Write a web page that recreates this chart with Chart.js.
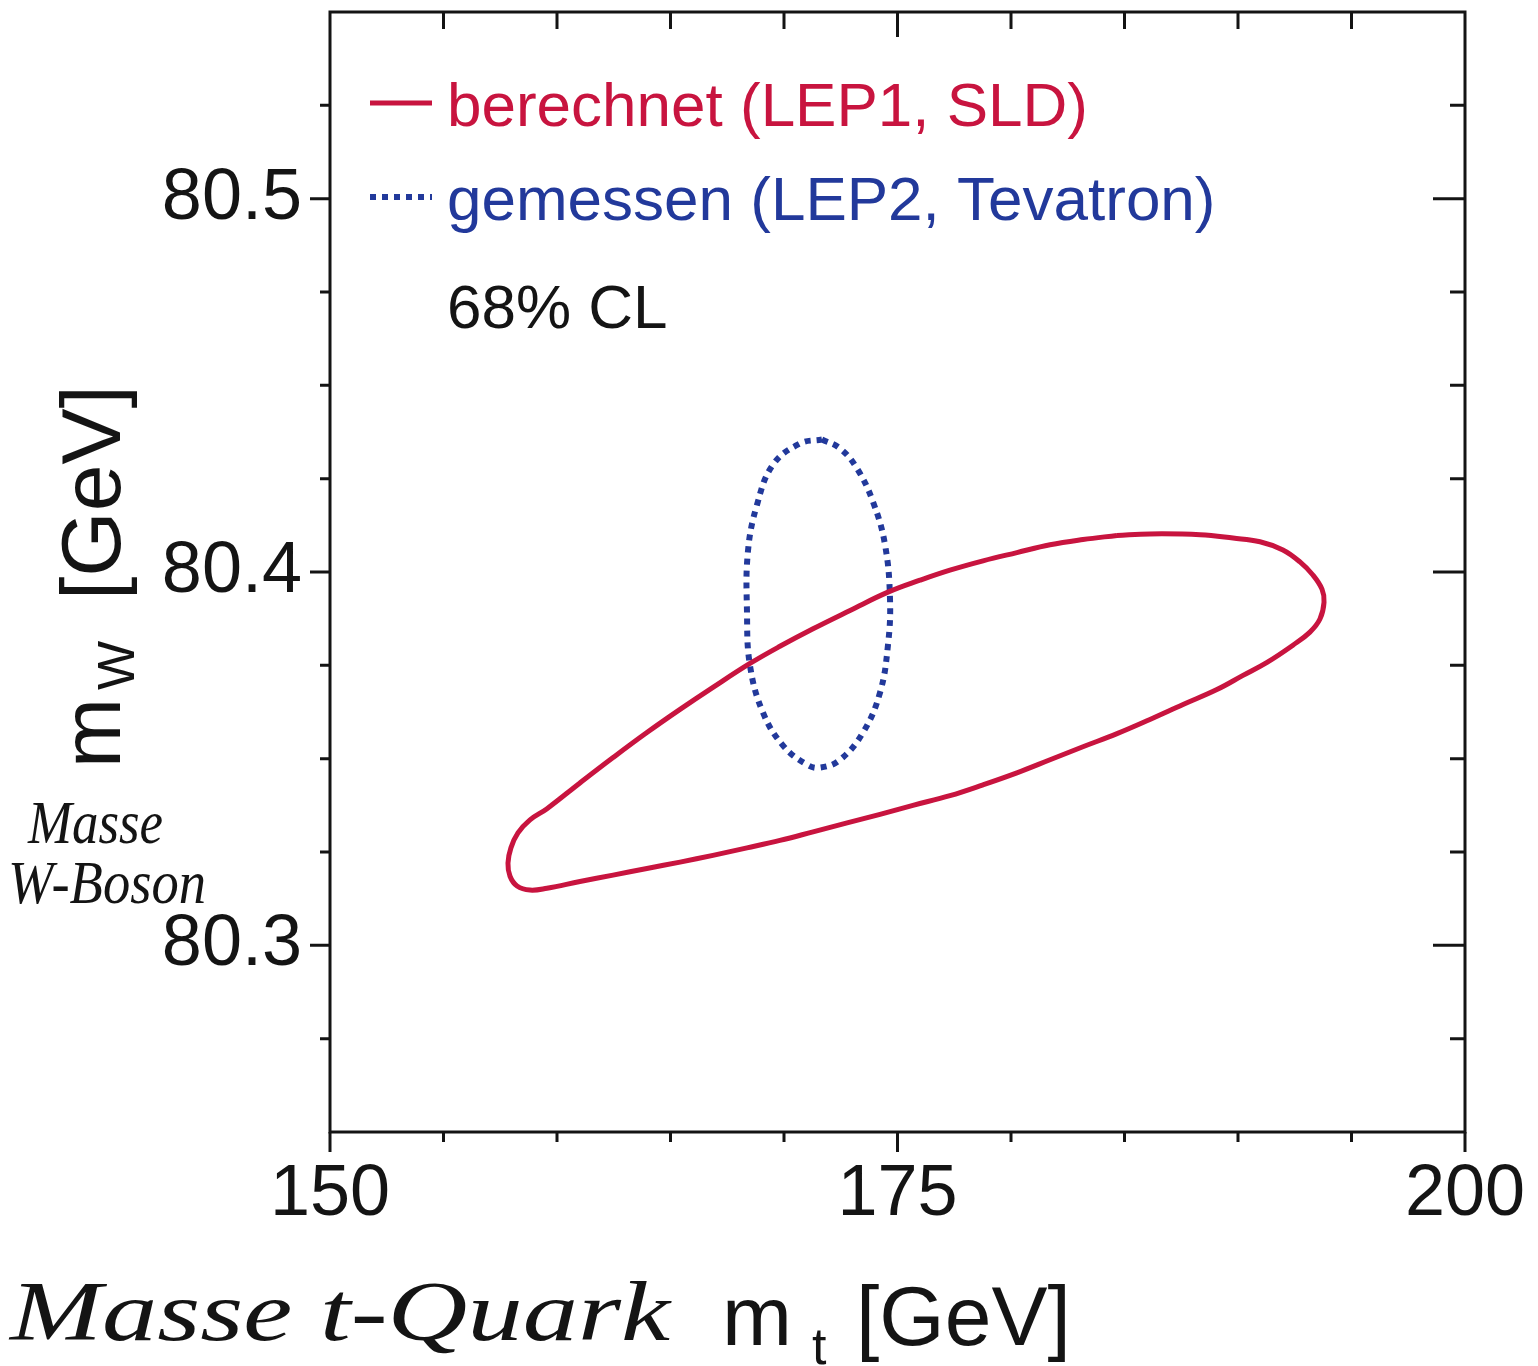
<!DOCTYPE html>
<html>
<head>
<meta charset="utf-8">
<script src="https://cdn.jsdelivr.net/npm/chart.js@4.4.1/dist/chart.umd.min.js"></script>
<style>
  html, body { margin: 0; padding: 0; background: #fff; }
  #wrap { width: 1538px; height: 1366px; }
</style>
</head>
<body>
<div id="wrap"><canvas id="mwChart" width="1538" height="1366"></canvas></div>
<script>
  // m_t [GeV] / m_W [GeV] (closed: last point = first point)
  const redMt = [184.67, 186.12, 188.33, 189.78, 190.97, 191.98, 192.73, 193.30, 193.70, 193.79,
                 193.61, 193.17, 192.42, 191.28, 190.22, 189.07, 187.58, 186.12, 184.67, 183.17,
                 181.72, 180.26, 178.77, 177.31, 175.68, 174.23, 172.78, 171.28, 169.82, 168.37,
                 166.87, 165.42, 163.96, 162.47, 161.01, 159.56, 158.81, 158.24, 157.93, 157.84,
                 157.97, 158.28, 158.81, 159.56, 161.01, 162.47, 163.96, 165.42, 166.87, 168.50,
                 169.82, 171.28, 172.91, 174.58, 175.99, 177.31, 178.77, 180.26, 181.72, 183.17,
                 184.67];
  const redMw = [80.4098, 80.4102, 80.4100, 80.4091, 80.4081, 80.4059, 80.4027, 80.3992, 80.3954, 80.3919,
                 80.3874, 80.3839, 80.3804, 80.3758, 80.3723, 80.3685, 80.3645, 80.3605, 80.3567, 80.3532,
                 80.3497, 80.3462, 80.3430, 80.3401, 80.3375, 80.3351, 80.3328, 80.3304, 80.3281, 80.3261,
                 80.3241, 80.3223, 80.3206, 80.3188, 80.3171, 80.3153, 80.3148, 80.3159, 80.3185, 80.3220,
                 80.3261, 80.3301, 80.3336, 80.3366, 80.3435, 80.3503, 80.3570, 80.3632, 80.3691, 80.3755,
                 80.3801, 80.3848, 80.3897, 80.3946, 80.3978, 80.4005, 80.4030, 80.4052, 80.4073, 80.4087,
                 80.4098];

  const blueMt = [171.67, 172.47, 173.22, 173.92, 174.45, 174.67, 174.58, 174.23, 173.48, 172.47,
                  171.59, 171.01, 169.96, 169.07, 168.50, 168.37, 168.41, 168.81, 169.52, 170.70,
                  171.67];
  const blueMw = [80.4355, 80.4331, 80.4277, 80.4188, 80.4073, 80.3927, 80.3804, 80.3677, 80.3570, 80.3497,
                  80.3476, 80.3484, 80.3535, 80.3624, 80.3750, 80.3892, 80.4054, 80.4180, 80.4288, 80.4344,
                  80.4355];

  const xMajor = [150, 175, 200];
  const yMajor = [80.3, 80.4, 80.5];

  const legendLabels = ['berechnet (LEP1, SLD)', 'gemessen (LEP2, Tevatron)'];
  const clLabel = '68% CL';

  const RED = '#c8143f';
  const BLUE = '#22399b';
  const INK = '#141414';
  const SANS = '"Liberation Sans", Arial, Helvetica, sans-serif';
  const HAND = '"Liberation Serif", serif';

  const zip = (xs, ys) => xs.map((v, i) => ({ x: v, y: ys[i] }));
  const isMajor = (v, list) => list.some(m => Math.abs(m - v) < 1e-6);

  // fit a handwritten-style note into a given width
  function handText(ctx, text, x, y, width, size) {
    ctx.font = 'italic ' + size + 'px ' + HAND;
    const w = ctx.measureText(text).width;
    ctx.save();
    ctx.translate(x, y);
    ctx.scale(width / w, 1);
    ctx.fillText(text, 0, 0);
    ctx.restore();
  }

  const decor = {
    id: 'decor',
    afterDraw(chart) {
      const { ctx, chartArea: a, scales: { x, y } } = chart;
      ctx.save();
      ctx.strokeStyle = INK;
      ctx.lineWidth = 3;
      ctx.lineCap = 'butt';
      ctx.strokeRect(a.left, a.top, a.right - a.left, a.bottom - a.top);

      // x ticks: outward at bottom, inward at top
      ctx.beginPath();
      x.ticks.forEach(t => {
        const px = x.getPixelForValue(t.value);
        const big = isMajor(t.value, xMajor);
        ctx.moveTo(px, a.bottom);
        ctx.lineTo(px, a.bottom + (big ? 20 : 10));
        if (t.value > x.min && t.value < x.max) {
          ctx.moveTo(px, a.top);
          ctx.lineTo(px, a.top + (big ? 25 : 17));
        }
      });
      // y ticks: outward at left, inward at right
      y.ticks.forEach(t => {
        if (t.value <= y.min + 1e-6 || t.value >= y.max - 1e-6) return;
        const py = y.getPixelForValue(t.value);
        const big = isMajor(t.value, yMajor);
        ctx.moveTo(a.left, py);
        ctx.lineTo(a.left - (big ? 20 : 10), py);
        ctx.moveTo(a.right, py);
        ctx.lineTo(a.right - (big ? 32 : 15), py);
      });
      ctx.stroke();

      // legend
      const ds = chart.data.datasets;
      const rows = [103, 197];
      ds.forEach((d, i) => {
        ctx.beginPath();
        ctx.strokeStyle = d.borderColor;
        ctx.lineWidth = d.borderWidth;
        ctx.setLineDash(d.borderDash || []);
        ctx.moveTo(370, rows[i]);
        ctx.lineTo(432, rows[i]);
        ctx.stroke();
        ctx.setLineDash([]);
        ctx.fillStyle = d.borderColor;
        ctx.font = '62px ' + SANS;
        ctx.textBaseline = 'alphabetic';
        ctx.textAlign = 'left';
        ctx.fillText(legendLabels[i], 447, rows[i] + 23);
      });
      ctx.fillStyle = INK;
      ctx.fillText(clLabel, 447, 328);

      // x title: m_t [GeV]
      ctx.font = '84px ' + SANS;
      ctx.fillText('m', 722, 1345);
      ctx.font = '52px ' + SANS;
      ctx.fillText('t', 812, 1364);
      ctx.font = '84px ' + SANS;
      ctx.fillText('[GeV]', 856, 1345);

      // y title: m_W [GeV] (rotated)
      ctx.save();
      ctx.translate(120, 768);
      ctx.rotate(-Math.PI / 2);
      ctx.font = '84px ' + SANS;
      ctx.fillText('m', 0, 0);
      ctx.font = '52px ' + SANS;
      ctx.fillText('W', 78, 14);
      ctx.font = '84px ' + SANS;
      ctx.fillText('[GeV]', 168, 0);
      ctx.restore();

      // handwritten notes
      handText(ctx, 'Masse t-Quark', 10, 1340, 660, 84);
      handText(ctx, 'Masse', 28, 843, 135, 62);
      handText(ctx, 'W-Boson', 8, 903, 198, 62);
      ctx.restore();
    }
  };

  new Chart(document.getElementById('mwChart'), {
    type: 'scatter',
    data: {
      datasets: [{
        label: legendLabels[0],
        data: zip(redMt, redMw),
        showLine: true,
        borderColor: RED,
        borderWidth: 5,
        pointRadius: 0,
        tension: 0.4,
        fill: false
      }, {
        label: legendLabels[1],
        data: zip(blueMt, blueMw),
        showLine: true,
        borderColor: BLUE,
        borderWidth: 6,
        borderDash: [6, 6],
        pointRadius: 0,
        tension: 0.4,
        fill: false
      }]
    },
    options: {
      responsive: false,
      animation: false,
      layout: { autoPadding: false, padding: { top: 12, right: 73, left: 0, bottom: 0 } },
      plugins: { legend: { display: false }, tooltip: { enabled: false } },
      scales: {
        x: {
          type: 'linear',
          min: 150,
          max: 200,
          grid: { display: false, drawTicks: false },
          border: { display: false },
          afterFit: s => { s.height = 234; s.paddingLeft = 0; s.paddingRight = 0; },
          ticks: {
            stepSize: 5,
            padding: 20,
            color: INK,
            font: { family: SANS, size: 72 },
            maxRotation: 0,
            autoSkip: false,
            callback: v => isMajor(v, xMajor) ? String(Math.round(v)) : ''
          }
        },
        y: {
          type: 'linear',
          min: 80.25,
          max: 80.55,
          grid: { display: false, drawTicks: false },
          border: { display: false },
          afterFit: s => { s.width = 330; s.paddingTop = 0; s.paddingBottom = 0; },
          ticks: {
            stepSize: 0.025,
            padding: 28,
            color: INK,
            font: { family: SANS, size: 72 },
            autoSkip: false,
            callback: v => isMajor(v, yMajor) ? v.toFixed(1) : ''
          }
        }
      }
    },
    plugins: [decor]
  });
</script>
</body>
</html>
